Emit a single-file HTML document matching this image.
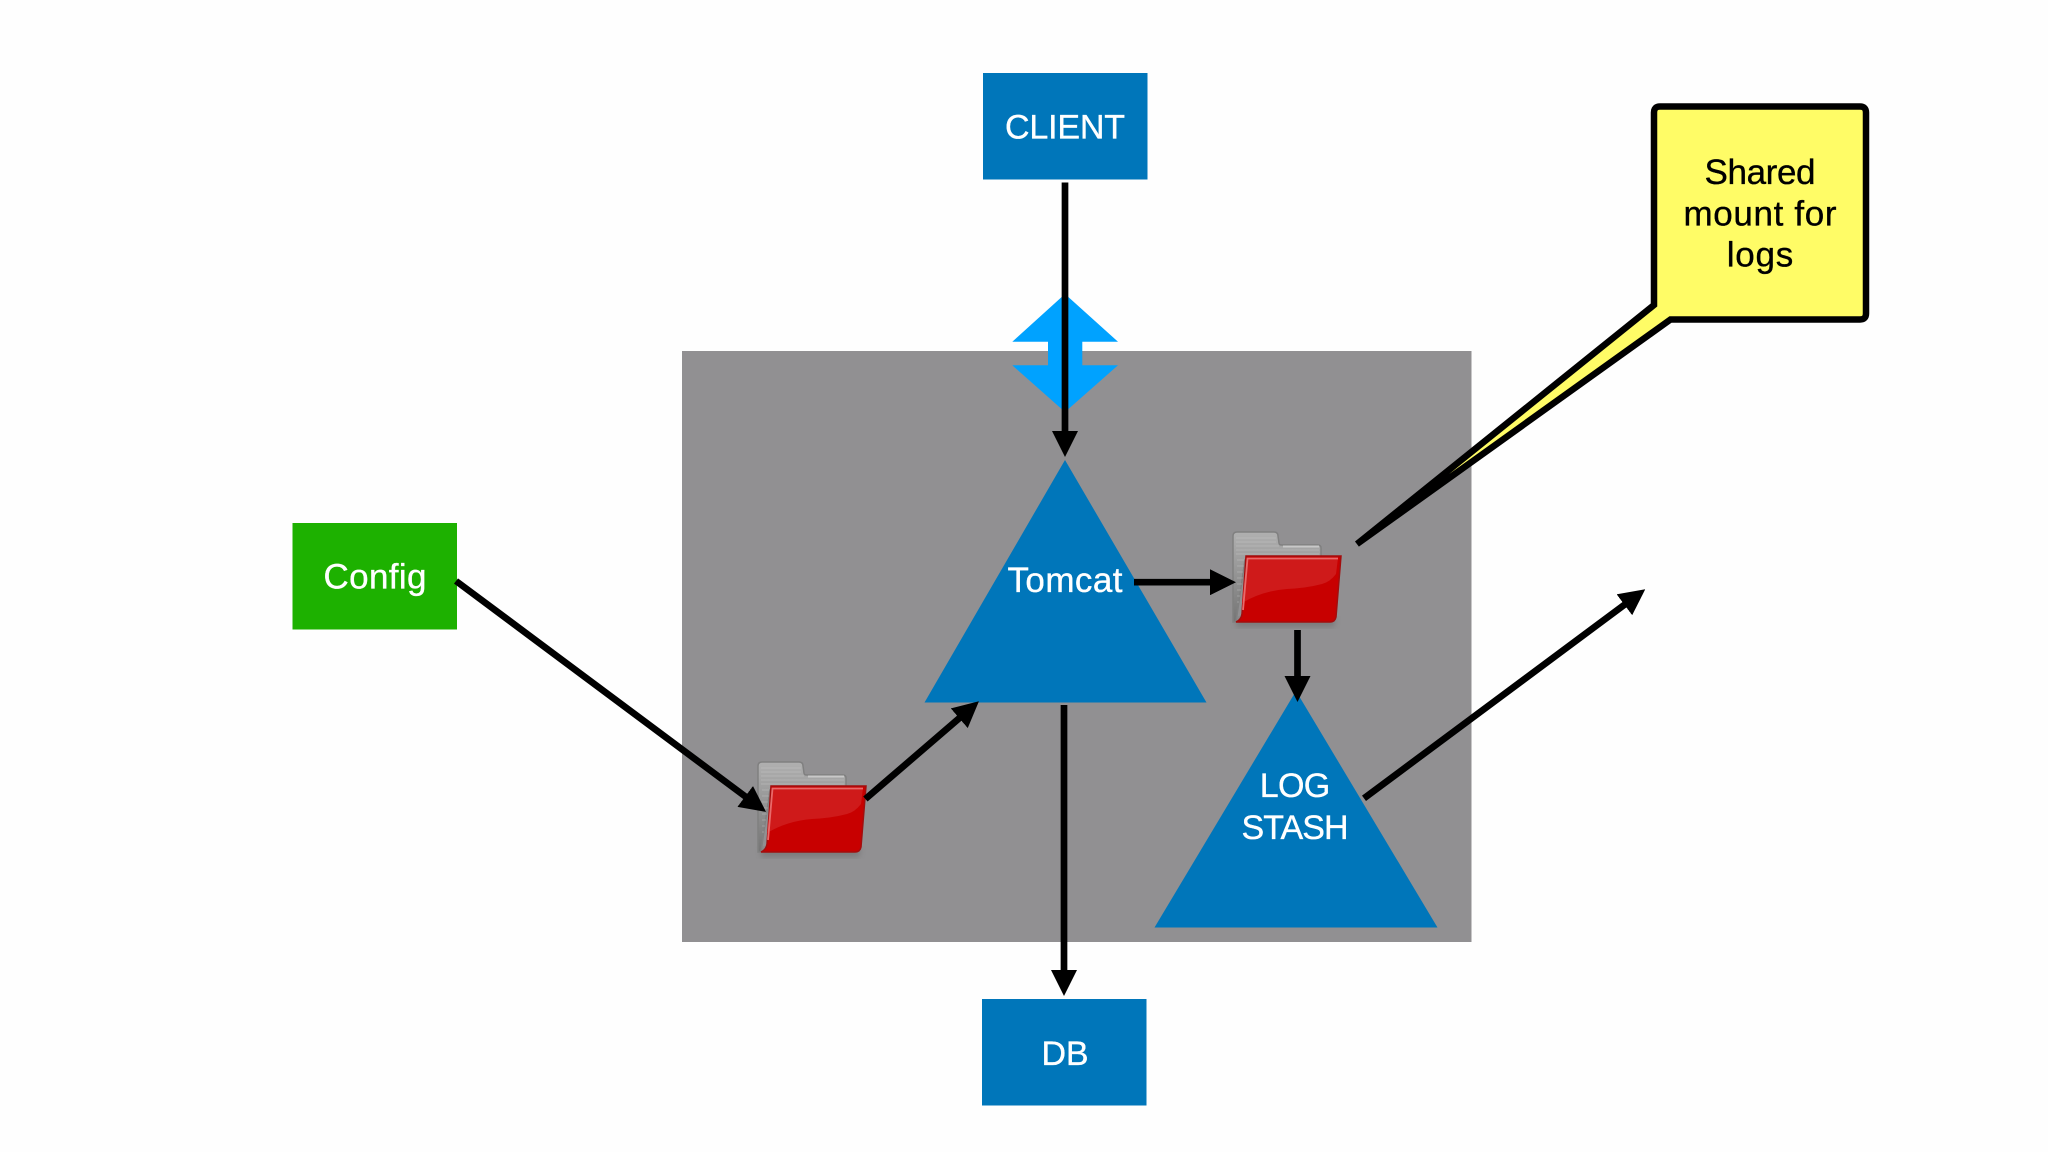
<!DOCTYPE html>
<html>
<head>
<meta charset="utf-8">
<style>
html,body{margin:0;padding:0;background:#fefefe;width:2048px;height:1152px;overflow:hidden}
svg{display:block}
text{font-family:"Liberation Sans",sans-serif;font-size:34px;text-anchor:middle;stroke-width:.35px}
.l{font-size:35px}
.w{fill:#fff;stroke:#fff}.k{fill:#000;stroke:#000}
.ln{stroke:#000;stroke-width:6.7;fill:none;marker-end:url(#ah)}
</style>
</head>
<body>
<svg width="2048" height="1152" viewBox="0 0 2048 1152" xmlns="http://www.w3.org/2000/svg">
<defs>
<marker id="ah" markerUnits="userSpaceOnUse" markerWidth="26" markerHeight="26" viewBox="0 0 26 26" refX="1" refY="13" orient="auto">
<path d="M0 0L26 13L0 26z" fill="#000"/>
</marker>
<linearGradient id="bk" x1="0" y1="0" x2="0" y2="1">
<stop offset="0" stop-color="#b0b0b0"/><stop offset="1" stop-color="#757575"/>
</linearGradient>
<filter id="sh" x="-20%" y="-20%" width="140%" height="140%"><feGaussianBlur stdDeviation="3"/></filter>
<g id="folder">
<path d="M1236 618H1336L1334 627H1236z" fill="#555" opacity=".35" filter="url(#sh)"/>
<path d="M1233 536q0-4 4-4h37q4 0 4 4l1 7q0 2 3 2h36q3 0 3 3v12h-76l-9 62h-3z" fill="url(#bk)" stroke="#808080" stroke-width="1.5"/>
<path d="M1236 538H1276M1236 542H1276M1236 546H1279M1236 550H1319M1236 554H1319M1237 560H1244M1237 566H1244M1237 572H1243M1237 578H1243M1237 584H1242M1237 590H1241M1237 596H1240M1237 602H1239" stroke="#cfcfcf" stroke-width="1" opacity=".35" fill="none"/>
<path d="M1283 546.500H1319" stroke="#c8c8c8" stroke-width="2"/>
<path d="M1246 556H1341L1336 617q-1 5-6 5H1236q5-2 6-8z" fill="#c80000" stroke="#a30d0d" stroke-width="1.5"/>
<path d="M1247 558H1338L1336 574q-6 8-14 10q-15 4-35 5q-25 2-45 14z" fill="#cf1a1a"/>
<path d="M1243 610L1247.500 558.500H1338" fill="none" stroke="#e86a6a" stroke-width="1.800"/>
</g>
</defs>

<rect width="2048" height="1152" fill="#fefefe"/>
<rect x="682" y="351" width="789.500" height="591" fill="#919092"/>

<!-- double blue arrow -->
<path d="M1065 294L1118 341.700H1082.300V365.300H1118L1065 412L1012.300 365.300H1048V341.700H1012.300z" fill="#00a2ff"/>

<!-- boxes -->
<rect x="983" y="73" width="164.500" height="106.500" fill="#0076ba"/>
<text x="1065" y="138.500" class="w" textLength="120">CLIENT</text>
<rect x="982" y="999" width="164.500" height="106.500" fill="#0076ba"/>
<text x="1065" y="1065" class="w" textLength="47">DB</text>
<rect x="292.500" y="523" width="164.500" height="106.500" fill="#1db100"/>
<text x="375" y="588.500" class="w l" textLength="103">Config</text>

<!-- triangles -->
<path d="M1065 460L1206.500 702.500H924.500z" fill="#0076ba"/>
<text x="1065" y="592" class="w l" textLength="115">Tomcat</text>
<path d="M1296 691L1437.500 927.500H1154.500z" fill="#0076ba"/>
<text x="1295" y="797" class="w" textLength="70.500">LOG</text>
<text x="1295" y="838.800" class="w" textLength="107">STASH</text>

<!-- folders -->
<use href="#folder"/>
<use href="#folder" x="-475" y="230"/>

<!-- connectors -->
<line x1="1065" y1="182.500" x2="1065" y2="432" class="ln"/>
<line x1="1064" y1="705" x2="1064" y2="971" class="ln"/>
<line x1="1134" y1="582.200" x2="1211" y2="582.200" class="ln"/>
<line x1="1297.500" y1="630" x2="1297.500" y2="677" class="ln"/>
<line x1="456" y1="581" x2="746" y2="797" class="ln"/>
<line x1="865.400" y1="799" x2="960" y2="717.600" class="ln"/>
<line x1="1364" y1="798.300" x2="1625.200" y2="604.200" class="ln"/>

<!-- callout -->
<path d="M1660 106.500H1860q6 0 6 6V313.500q0 6-6 6H1670.500L1357 544L1654 305V112.500q0-6 6-6z" fill="#fffc66" stroke="#000" stroke-width="6.500" stroke-linejoin="miter" stroke-miterlimit="4"/>
<text x="1760" y="184" class="k l" textLength="111">Shared</text>
<text x="1760" y="225.300" class="k l" textLength="153">mount for</text>
<text x="1760" y="266.700" class="k l" textLength="66.500">logs</text>
</svg>
</body>
</html>
